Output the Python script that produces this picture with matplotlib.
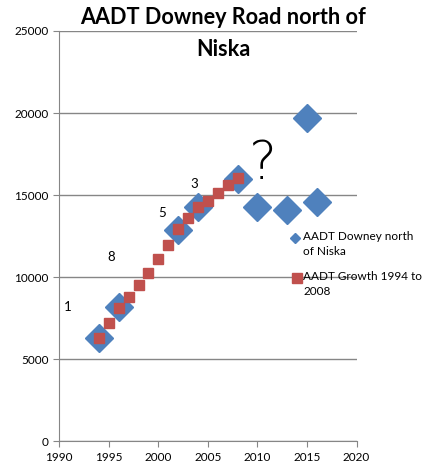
import matplotlib
matplotlib.use("Agg")
import matplotlib.pyplot as plt

plt.rcParams['font.family'] = ['Lato', 'DejaVu Sans']

# Data
## measured AADT, Downey Road north of Niska
years_obs = [1994, 1996, 2002, 2004, 2008, 2010, 2013, 2015, 2016]
aadt_obs = [6300, 8200, 12900, 14300, 16000, 14300, 14100, 19700, 14600]

## growth trend 1994 to 2008
years_growth = [1994, 1995, 1996, 1997, 1998, 1999, 2000, 2001, 2002, 2003,
                2004, 2005, 2006, 2007, 2008]
aadt_growth = [6280, 7190, 8140, 8810, 9520, 10270, 11110, 11980, 12940, 13590,
               14260, 14660, 15110, 15600, 16030]

## hand annotations
notes = ['1', '8', '5', '3']
notes_x = [1990.9, 1995.2, 2000.4, 2003.6]
notes_y = [8200, 11200, 13900, 15700]

legend_labels = ['AADT Downey north\nof Niska', 'AADT Growth 1994 to\n2008']

blue = '#4F81BD'
red = '#C0504D'
grey = '#868686'

W, H = 423, 466
fig = plt.figure(figsize=(W / 100, H / 100), dpi=100)
ax = fig.add_axes([0.140, 0.053, 0.703, 0.8805])

ax.plot(years_obs, aadt_obs, linestyle='none', marker='D', markersize=14,
        color=blue)
ax.plot(years_growth, aadt_growth, linestyle='none', marker='s', markersize=7.2,
        color=red)

for t, x, y in zip(notes, notes_x, notes_y):
    ax.text(x, y, t, fontsize=9.5, ha='center', va='center', color='black')
ax.text(2010.6, 16900, '?', fontsize=38, ha='center', va='center', color='black',
        family=['DejaVu Sans'], fontweight='light')

ax.set_xlim(1990, 2020)
ax.set_ylim(0, 25000)
ax.set_xticks(range(1990, 2021, 5))
ax.set_yticks(range(0, 25001, 5000))
ax.tick_params(labelsize=8.5, color=grey, length=4, direction='out')

# horizontal major grid only
ax.grid(visible=True, axis='y', color=grey, linewidth=1)
ax.set_axisbelow(True)
for s in ['top', 'right']:
    ax.spines[s].set_visible(False)
for s in ['left', 'bottom']:
    ax.spines[s].set_color(grey)

# title, two lines like the original
fig.text(223 / W, 1 - 18 / H, 'AADT Downey Road north of', fontsize=15.6,
         fontweight='bold', ha='center', va='center')
fig.text(223 / W, 1 - 50 / H, 'Niska', fontsize=15.6,
         fontweight='bold', ha='center', va='center')

# legend drawn by hand so markers sit on the first text line
leg_marks = ['D', 's']
leg_sizes = [5, 7]
leg_colors = [blue, red]
leg_x = [295, 297]
leg_y = [238, 278]
for lab, m, ms, c, x, y in zip(legend_labels, leg_marks, leg_sizes, leg_colors,
                               leg_x, leg_y):
    fig.add_artist(plt.Line2D([x / W], [1 - y / H], marker=m, markersize=ms,
                              color=c, linestyle='none'))
    fig.text(303 / W, 1 - (y - 7) / H, lab, fontsize=8.5, ha='left', va='top',
             linespacing=1.4)

fig.savefig('out.png', dpi=100)
